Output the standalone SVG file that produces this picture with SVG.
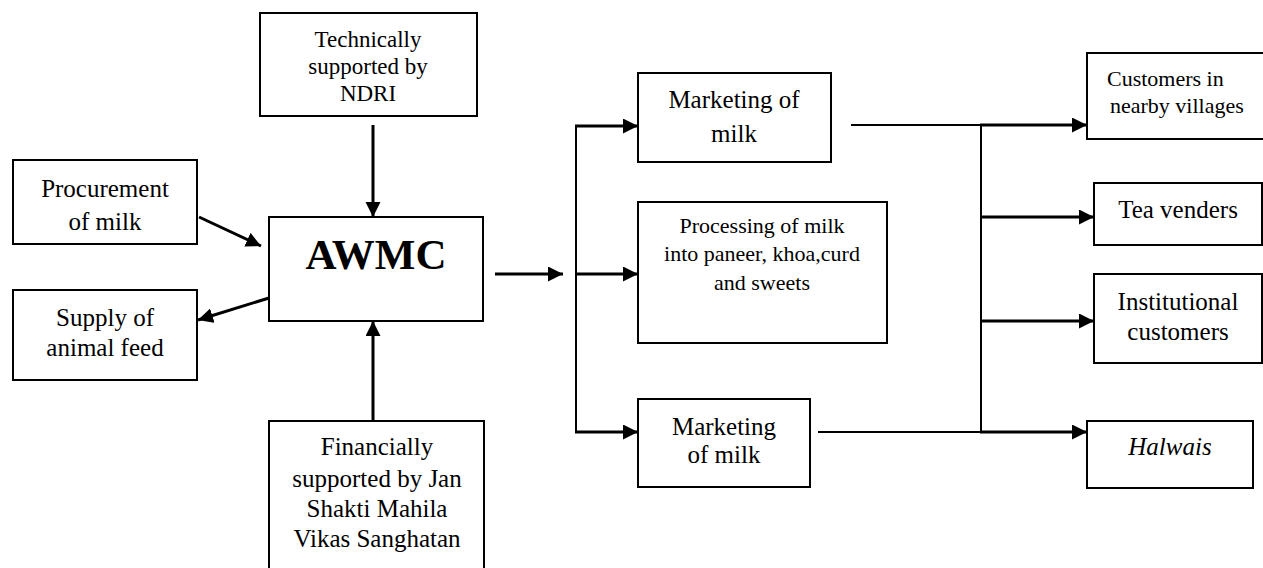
<svg xmlns="http://www.w3.org/2000/svg" width="1263" height="568" viewBox="0 0 1263 568">
<style>
.box{fill:#fff;stroke:#000;stroke-width:2}
.t{font-family:"Liberation Serif","Times New Roman",serif;fill:#000;text-anchor:middle}
.thick{stroke:#000;stroke-width:3;fill:none}
.thin{stroke:#000;stroke-width:2;fill:none}
</style>
<defs>
<marker id="ah" markerUnits="userSpaceOnUse" markerWidth="16" markerHeight="16" refX="15" refY="7.5" orient="auto">
<path d="M0,0 L15,7.5 L0,15 Z" fill="#000"/>
</marker>
</defs>
<rect width="1263" height="568" fill="#fff"/>
<g id="tech"><rect class="box" x="260" y="13" width="217" height="103"/>
<text class="t" font-size="23"><tspan x="368" y="47">Technically</tspan><tspan x="368" y="74">supported by</tspan><tspan x="368" y="101">NDRI</tspan></text></g>
<g id="proc"><rect class="box" x="13" y="160" width="184" height="84"/>
<text class="t" font-size="25"><tspan x="105" y="197">Procurement</tspan><tspan x="105" y="230">of milk</tspan></text></g>
<g id="supply"><rect class="box" x="13" y="290" width="184" height="90"/>
<text class="t" font-size="25"><tspan x="105" y="326">Supply of</tspan><tspan x="105" y="356">animal feed</tspan></text></g>
<g id="awmc"><rect class="box" x="269" y="217" width="214" height="104"/>
<text class="t" font-size="43" font-weight="bold" x="376" y="269">AWMC</text></g>
<g id="fin"><rect class="box" x="269" y="421" width="215" height="160"/>
<text class="t" font-size="25"><tspan x="377" y="455">Financially</tspan><tspan x="377" y="487">supported by Jan</tspan><tspan x="377" y="517">Shakti Mahila</tspan><tspan x="377" y="547">Vikas Sanghatan</tspan></text></g>
<g id="mkt1"><rect class="box" x="638" y="73" width="193" height="89"/>
<text class="t" font-size="25"><tspan x="734" y="108">Marketing of</tspan><tspan x="734" y="142">milk</tspan></text></g>
<g id="processing"><rect class="box" x="638" y="202" width="249" height="141"/>
<text class="t" font-size="22"><tspan x="762" y="233">Processing of milk</tspan><tspan x="762" y="261">into paneer, khoa,curd</tspan><tspan x="762" y="290">and sweets</tspan></text></g>
<g id="mkt2"><rect class="box" x="638" y="399" width="172" height="88"/>
<text class="t" font-size="25"><tspan x="724" y="435">Marketing</tspan><tspan x="724" y="463">of milk</tspan></text></g>
<g id="cust"><rect class="box" x="1087" y="53" width="178" height="86"/>
<text class="t" font-size="22" text-anchor="start" style="text-anchor:start"><tspan x="1107" y="86">Customers in</tspan><tspan x="1110" y="113">nearby villages</tspan></text></g>
<g id="tea"><rect class="box" x="1094" y="183" width="168" height="62"/>
<text class="t" font-size="25" x="1178" y="218">Tea venders</text></g>
<g id="inst"><rect class="box" x="1094" y="274" width="168" height="89"/>
<text class="t" font-size="25"><tspan x="1178" y="310">Institutional</tspan><tspan x="1178" y="340">customers</tspan></text></g>
<g id="halwais"><rect class="box" x="1087" y="421" width="166" height="67"/>
<text class="t" font-size="25" font-style="italic" x="1170" y="455">Halwais</text></g>
<g id="connectors">
<line class="thick" x1="373" y1="125" x2="373" y2="217" marker-end="url(#ah)"/>
<line class="thick" x1="373" y1="421" x2="373" y2="321" marker-end="url(#ah)"/>
<line class="thick" x1="199" y1="217" x2="261" y2="246" marker-end="url(#ah)"/>
<line class="thick" x1="269" y1="298" x2="198" y2="320" marker-end="url(#ah)"/>
<line class="thick" x1="495" y1="274" x2="563" y2="274" marker-end="url(#ah)"/>
<line class="thin" x1="576" y1="125" x2="576" y2="433"/>
<line class="thick" x1="575" y1="126" x2="638" y2="126" marker-end="url(#ah)"/>
<line class="thick" x1="575" y1="274" x2="638" y2="274" marker-end="url(#ah)"/>
<line class="thick" x1="575" y1="432" x2="638" y2="432" marker-end="url(#ah)"/>
<line class="thin" x1="851" y1="125" x2="981" y2="125"/>
<line class="thin" x1="818" y1="432" x2="981" y2="432"/>
<line class="thin" x1="981" y1="124" x2="981" y2="433"/>
<line class="thick" x1="980" y1="125" x2="1087" y2="125" marker-end="url(#ah)"/>
<line class="thick" x1="980" y1="217" x2="1094" y2="217" marker-end="url(#ah)"/>
<line class="thick" x1="980" y1="321" x2="1094" y2="321" marker-end="url(#ah)"/>
<line class="thick" x1="980" y1="432" x2="1087" y2="432" marker-end="url(#ah)"/>
</g>
</svg>
